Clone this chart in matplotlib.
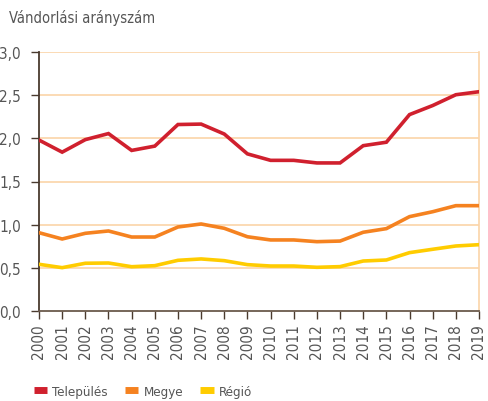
import numpy as np
import matplotlib.pyplot as plt
from matplotlib.lines import Line2D

years = list(range(2000, 2020))
telepules = [1.98, 1.84, 1.985, 2.055, 1.86, 1.91, 2.16, 2.165, 2.05, 1.82,
             1.745, 1.745, 1.715, 1.715, 1.915, 1.955, 2.275, 2.38, 2.505, 2.54]
megye = [0.907, 0.834, 0.90, 0.927, 0.857, 0.857, 0.973, 1.008, 0.958, 0.86,
         0.823, 0.823, 0.803, 0.81, 0.912, 0.954, 1.093, 1.15, 1.22, 1.22]
regio = [0.541, 0.502, 0.553, 0.556, 0.513, 0.525, 0.587, 0.603, 0.583, 0.537,
         0.521, 0.521, 0.506, 0.514, 0.579, 0.591, 0.676, 0.715, 0.753, 0.768]
labels = ['Település', 'Megye', 'Régió']
colors = ['#d0202e', '#f58220', '#ffcc00']

plt.rcParams['font.family'] = ['DejaVu Sans']
plt.rcParams['font.stretch'] = 'condensed'
txt = '#555555'
grid_c = '#fbd4a8'

fig = plt.figure(figsize=(4.89, 4.02), dpi=100)
ax = fig.add_axes([39/489, 1-312/402, 440/489, 259/402])

for vals, c in zip([telepules, megye, regio], colors):
    ax.plot(years, vals, color=c, lw=2.6, solid_joinstyle='miter', zorder=3)

ax.set_xlim(2000, 2019)
ax.set_ylim(0, 3)
ax.set_yticks(np.arange(0, 3.01, 0.5))
ax.set_yticklabels([f'{v:.1f}'.replace('.', ',') for v in np.arange(0, 3.01, 0.5)])
ax.set_xticks(years)
ax.set_xticklabels([str(y) for y in years], rotation=90)
ax.tick_params(axis='both', colors='#4a3a2e', labelcolor=txt, labelsize=11,
               length=6, width=1)
ax.tick_params(axis='y', pad=7)
ax.tick_params(axis='x', pad=3)

for y in np.arange(0.5, 3.01, 0.5):
    ax.axhline(y, color=grid_c, lw=1.2, zorder=1)

ax.spines['top'].set_visible(False)
ax.spines['right'].set_color(grid_c)
ax.spines['right'].set_linewidth(1.2)
ax.spines['left'].set_color('#4a3a2e')
ax.spines['bottom'].set_color('#6b5a4c')
ax.spines['left'].set_linewidth(1.3)
ax.spines['bottom'].set_linewidth(1.3)

fig.text(9/489, 1-18/402, 'Vándorlási arányszám', color=txt, fontsize=10.5,
         va='center', ha='left')

handles = [Line2D([0], [0], color=c, lw=5, solid_capstyle='butt') for c in colors]
fig.legend(handles, labels, ncol=3, loc='lower left', frameon=False,
           bbox_to_anchor=(26/489, -0.012), fontsize=9.5, labelcolor=txt,
           handlelength=1.0, handletextpad=0.4, columnspacing=1.3,
           borderaxespad=0.2)

fig.savefig('out.png', dpi=100)
